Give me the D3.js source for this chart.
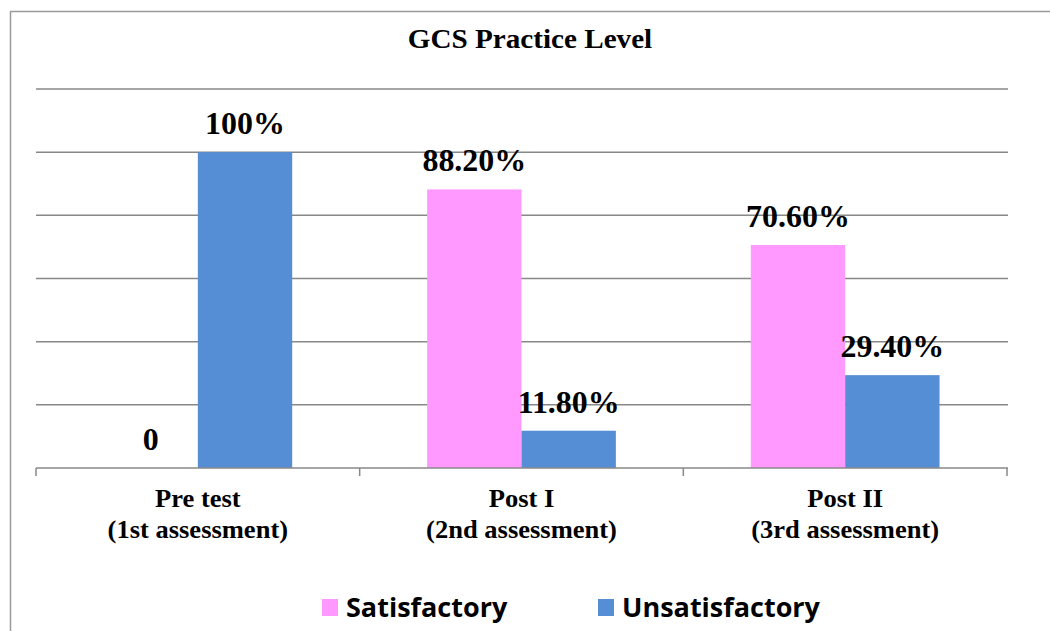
<!DOCTYPE html>
<html><head><meta charset="utf-8">
<script src="https://cdn.jsdelivr.net/npm/d3@7"></script>
<style>body{margin:0;background:#fff;}svg{display:block;}</style>
</head><body>
<svg id="c" width="1050" height="631"></svg>
<script>
const categories = ["Pre test|(1st assessment)", "Post I|(2nd assessment)", "Post II|(3rd assessment)"];
const seriesNames = ["Satisfactory", "Unsatisfactory"];
const satisfactory = [0, 88.2, 70.6];
const unsatisfactory = [100, 11.8, 29.4];
const satLabels = ["0", "88.20%", "70.60%"];
const unsatLabels = ["100%", "11.80%", "29.40%"];
const yTicks = [0, 20, 40, 60, 80, 100, 120];
const colors = ["#FF99FF", "#558ED5"];

const svg = d3.select("#c");
const serif = "'Liberation Serif','Times New Roman',serif";

function stretch(sel, f) {
  sel.each(function() {
    const w = this.getComputedTextLength();
    d3.select(this).attr("textLength", w * f).attr("lengthAdjust", "spacingAndGlyphs");
  });
}

// outer border
svg.append("rect").attr("x", 10.5).attr("y", 11.5).attr("width", 1100).attr("height", 700)
  .attr("fill", "none").attr("stroke", "#9a9a9a").attr("stroke-width", 1.5);

const L = 36, R = 1007, T = 89, B = 468;
const x0 = d3.scaleBand().domain(categories).range([L, R]).paddingInner(0).paddingOuter(0);
const x1 = d3.scaleBand().domain(seriesNames).range([0, x0.bandwidth()]).paddingInner(0).paddingOuter(0.715);
const y = d3.scaleLinear().domain([0, 120]).range([B, T]);

// gridlines
svg.append("g").selectAll("line").data(yTicks.filter(d => d > 0)).join("line")
  .attr("x1", L).attr("x2", R + 1).attr("y1", d => y(d)).attr("y2", d => y(d))
  .attr("stroke", "#888").attr("stroke-width", 1.5);

const series = [satisfactory, unsatisfactory];
const labels = [satLabels, unsatLabels];
seriesNames.forEach((s, si) => {
  const g = svg.append("g");
  g.selectAll("rect").data(categories).join("rect")
    .attr("x", c => x0(c) + x1(s))
    .attr("width", x1.bandwidth())
    .attr("y", (c, i) => y(series[si][i]))
    .attr("height", (c, i) => B - y(series[si][i]))
    .attr("fill", colors[si]);
  const t = g.selectAll("text").data(categories).join("text")
    .attr("x", c => x0(c) + x1(s) + x1.bandwidth() / 2)
    .attr("y", (c, i) => y(series[si][i]) - 18)
    .attr("text-anchor", "middle")
    .attr("font-family", serif).attr("font-weight", "bold").attr("font-size", 31)
    .attr("fill", "#000")
    .text((c, i) => labels[si][i]);
  stretch(t, 1.03);
});

// x axis
const ax = svg.append("g");
ax.append("line").attr("x1", L).attr("x2", R + 1).attr("y1", B).attr("y2", B)
  .attr("stroke", "#888").attr("stroke-width", 1.5);
const tickXs = categories.map(c => x0(c)).concat([R]);
ax.selectAll("line.t").data(tickXs).join("line").attr("class", "t")
  .attr("x1", d => d).attr("x2", d => d).attr("y1", B).attr("y2", B + 8)
  .attr("stroke", "#888").attr("stroke-width", 1.5);
categories.forEach(c => {
  c.split("|").forEach((p, i) => {
    const t = ax.append("text")
      .attr("x", x0(c) + x0.bandwidth() / 2)
      .attr("y", 507 + i * 31)
      .attr("text-anchor", "middle")
      .attr("font-family", serif).attr("font-weight", "bold").attr("font-size", 25.5).attr("fill", "#000")
      .text(p);
    stretch(t, 1.04);
  });
});

// title
const title = svg.append("text").attr("x", 530).attr("y", 48).attr("text-anchor", "middle")
  .attr("font-family", serif).attr("font-weight", "bold").attr("font-size", 27.5)
  .text("GCS Practice Level");
stretch(title, 1.06);

// legend
const legX = [322, 598];
const lg = svg.append("g");
seriesNames.forEach((s, i) => {
  const t = lg.append("text").attr("x", legX[i] + 24).attr("y", 617)
    .attr("font-family", "'Open Sans','Noto Sans',sans-serif").attr("font-weight", "bold").attr("font-size", 27)
    .text(s);
  lg.append("rect").attr("x", legX[i]).attr("y", 599).attr("width", 16).attr("height", 17).attr("fill", colors[i]);
});
</script>
</body></html>
